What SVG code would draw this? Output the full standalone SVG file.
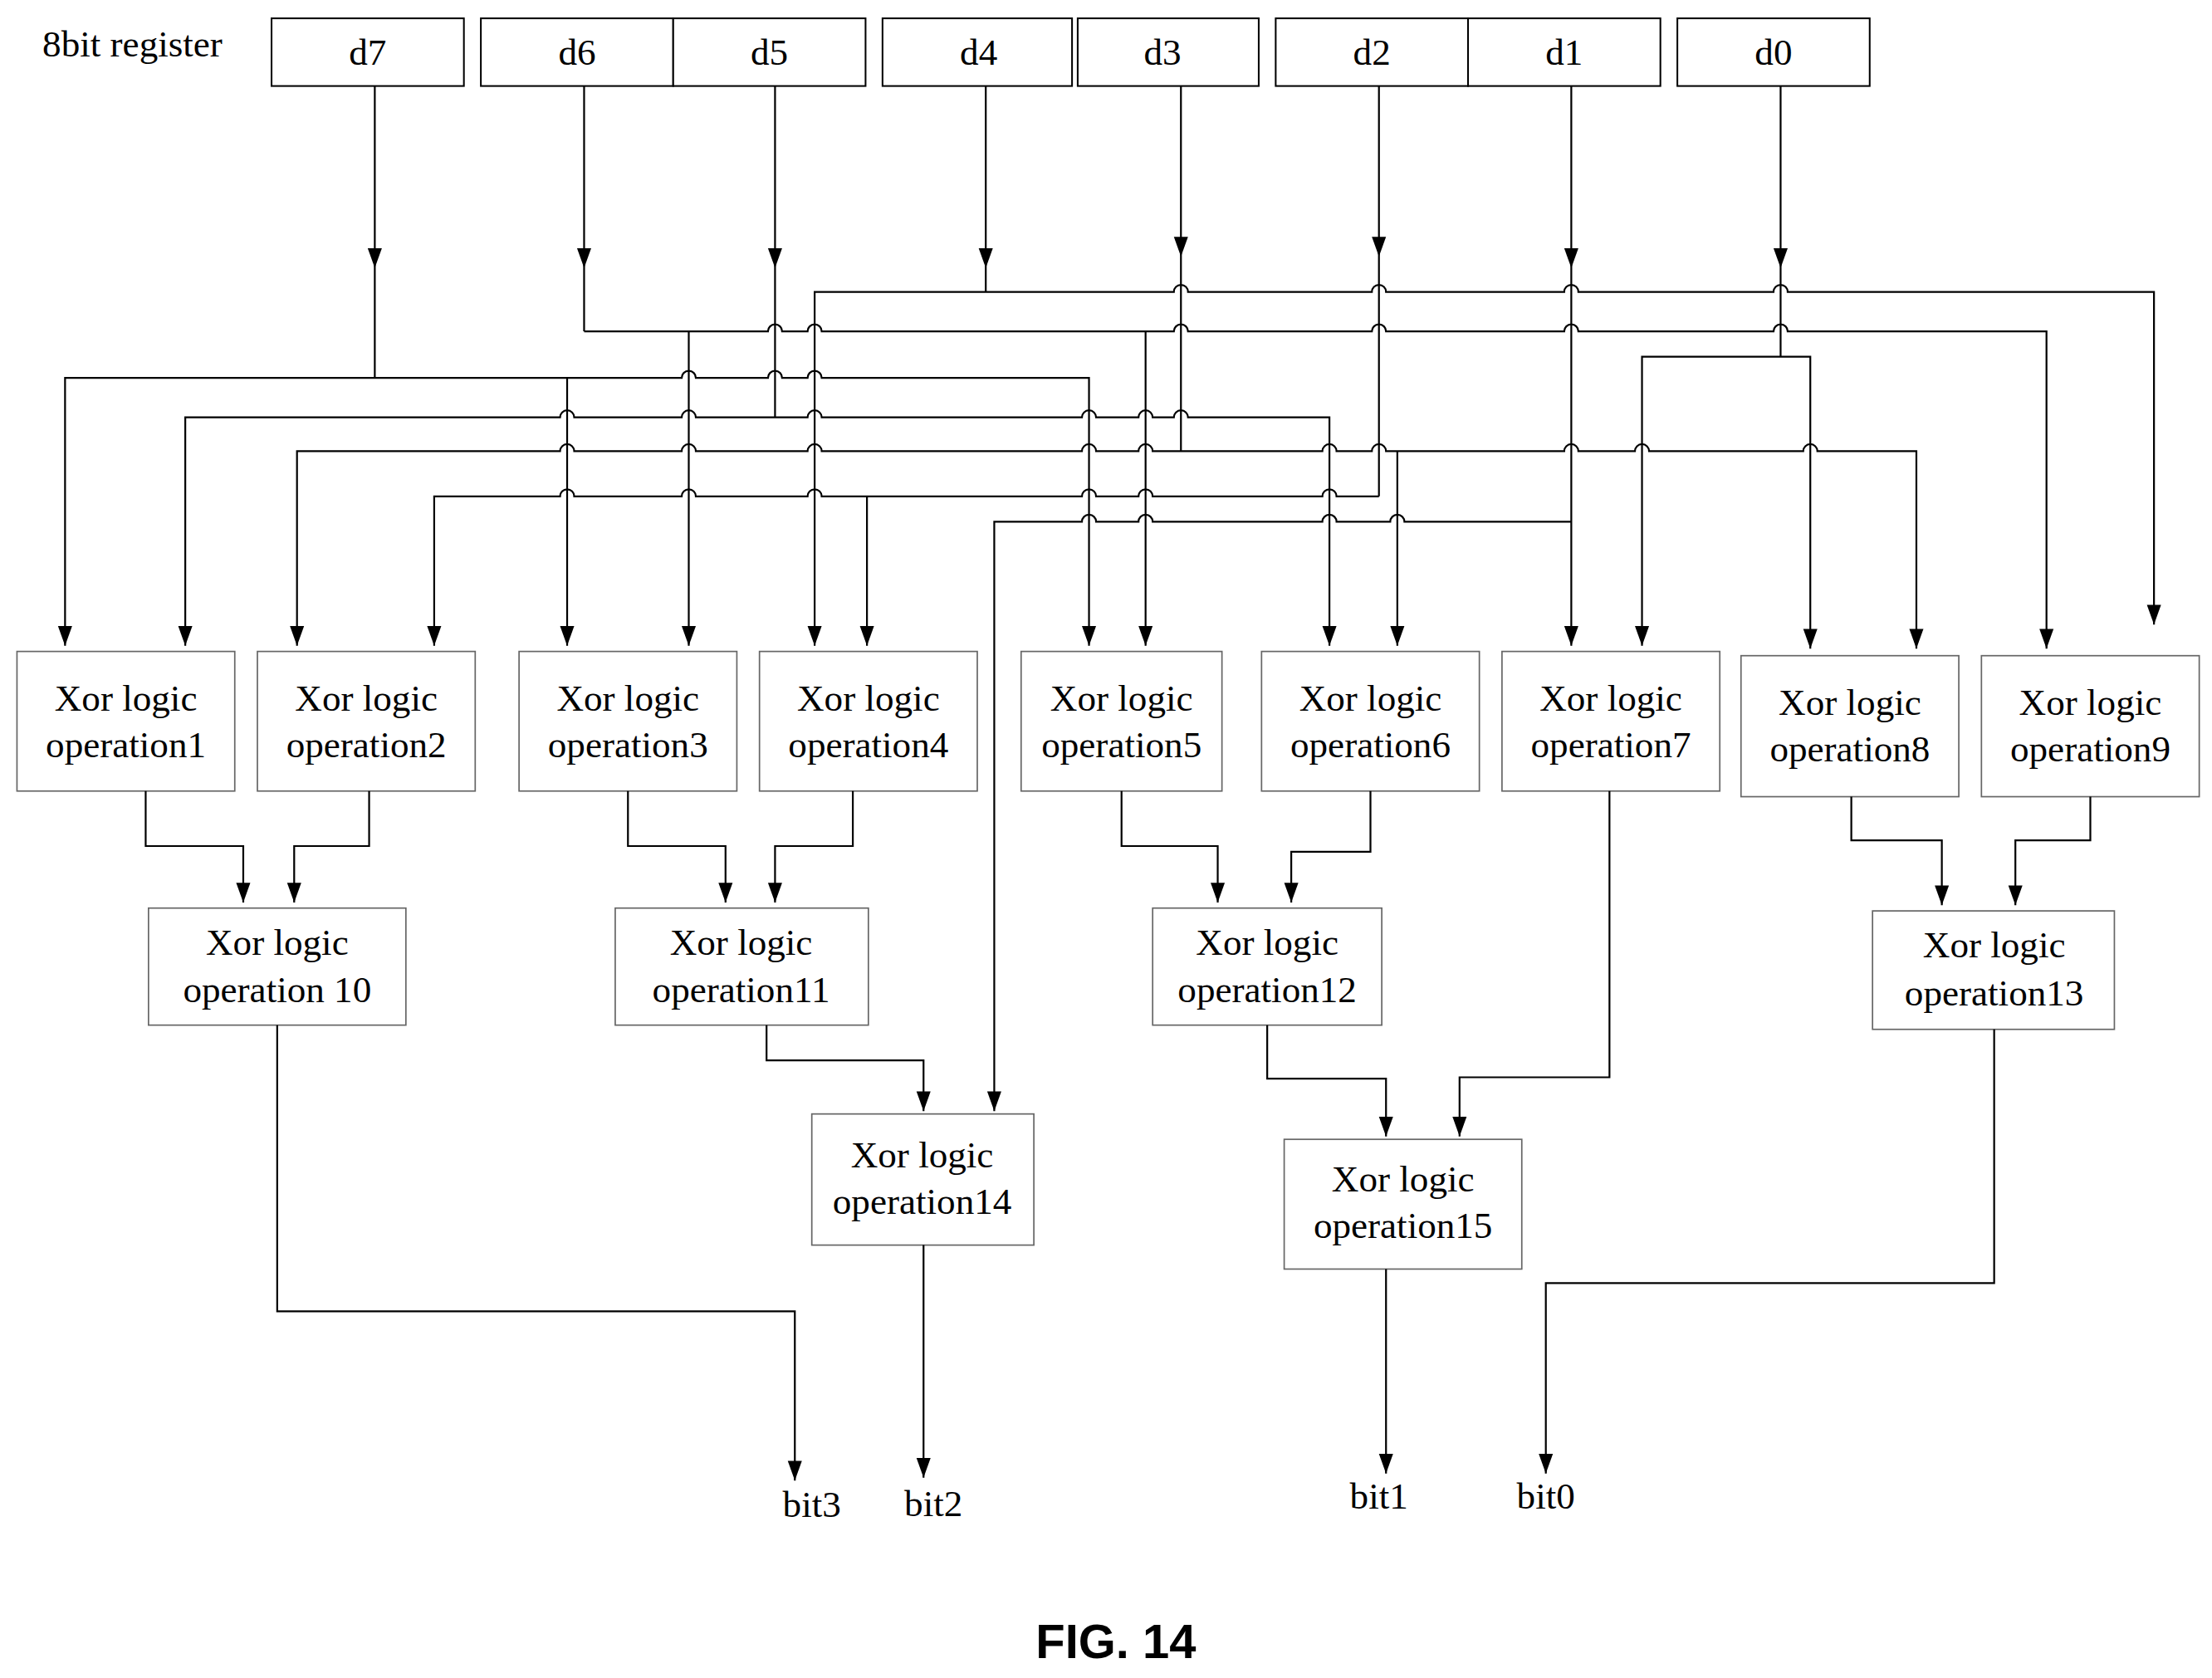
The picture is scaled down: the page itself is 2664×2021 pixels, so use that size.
<svg xmlns="http://www.w3.org/2000/svg" width="2664" height="2021" viewBox="0 0 2664 2021">
<style>
.reg{fill:#fff;stroke:#000;stroke-width:1.2}
.op{fill:#fff;stroke:#666;stroke-width:1}
.w{fill:none;stroke:#000;stroke-width:1.3}
text{font-family:"Liberation Serif","Times New Roman",serif;font-size:26.5px;fill:#000;text-anchor:middle}
</style>
<defs>
<path id="ah" d="M-5,-14 L5,-14 L0,0 Z" fill="#000"/>
</defs>
<rect width="2664" height="2021" fill="#fff"/>
<g transform="scale(1.7033,1.6983)">
<text x="30" y="40" style="text-anchor:start">8bit register</text>
<g id="reg">
<rect class="reg" x="192" y="13" width="136" height="48"/><text x="260" y="46">d7</text>
<rect class="reg" x="340" y="13" width="136" height="48"/><text x="408" y="46">d6</text>
<rect class="reg" x="476" y="13" width="136" height="48"/><text x="544" y="46">d5</text>
<rect class="reg" x="624" y="13" width="134" height="48"/><text x="692" y="46">d4</text>
<rect class="reg" x="762" y="13" width="128" height="48"/><text x="822" y="46">d3</text>
<rect class="reg" x="902" y="13" width="136" height="48"/><text x="970" y="46">d2</text>
<rect class="reg" x="1038" y="13" width="136" height="48"/><text x="1106" y="46">d1</text>
<rect class="reg" x="1186" y="13" width="136" height="48"/><text x="1254" y="46">d0</text>
</g>
<g id="op1"><rect class="op" x="12" y="462" width="154" height="99"/><text x="89" y="504">Xor logic</text><text x="89" y="537">operation1</text></g>
<g id="op2"><rect class="op" x="182" y="462" width="154" height="99"/><text x="259" y="504">Xor logic</text><text x="259" y="537">operation2</text></g>
<g id="op3"><rect class="op" x="367" y="462" width="154" height="99"/><text x="444" y="504">Xor logic</text><text x="444" y="537">operation3</text></g>
<g id="op4"><rect class="op" x="537" y="462" width="154" height="99"/><text x="614" y="504">Xor logic</text><text x="614" y="537">operation4</text></g>
<g id="op5"><rect class="op" x="722" y="462" width="142" height="99"/><text x="793" y="504">Xor logic</text><text x="793" y="537">operation5</text></g>
<g id="op6"><rect class="op" x="892" y="462" width="154" height="99"/><text x="969" y="504">Xor logic</text><text x="969" y="537">operation6</text></g>
<g id="op7"><rect class="op" x="1062" y="462" width="154" height="99"/><text x="1139" y="504">Xor logic</text><text x="1139" y="537">operation7</text></g>
<g id="op8"><rect class="op" x="1231" y="465" width="154" height="100"/><text x="1308" y="507">Xor logic</text><text x="1308" y="540">operation8</text></g>
<g id="op9"><rect class="op" x="1401" y="465" width="154" height="100"/><text x="1478" y="507">Xor logic</text><text x="1478" y="540">operation9</text></g>
<g id="op10"><rect class="op" x="105" y="644" width="182" height="83"/><text x="196" y="677">Xor logic</text><text x="196" y="711">operation 10</text></g>
<g id="op11"><rect class="op" x="435" y="644" width="179" height="83"/><text x="524" y="677">Xor logic</text><text x="524" y="711">operation11</text></g>
<g id="op12"><rect class="op" x="815" y="644" width="162" height="83"/><text x="896" y="677">Xor logic</text><text x="896" y="711">operation12</text></g>
<g id="op13"><rect class="op" x="1324" y="646" width="171" height="84"/><text x="1410" y="679">Xor logic</text><text x="1410" y="713">operation13</text></g>
<g id="op14"><rect class="op" x="574" y="790" width="157" height="93"/><text x="652" y="828">Xor logic</text><text x="652" y="861">operation14</text></g>
<g id="op15"><rect class="op" x="908" y="808" width="168" height="92"/><text x="992" y="845">Xor logic</text><text x="992" y="878">operation15</text></g>
<g id="labels">
<text x="574" y="1076">bit3</text><text x="660" y="1075">bit2</text><text x="975" y="1070">bit1</text><text x="1093" y="1070">bit0</text>
<text x="789" y="1176" style="font-family:'Liberation Sans',Arial,sans-serif;font-weight:bold;font-size:34px">FIG. 14</text>
</g>
<g id="connectors">
<path class="w" d="M265 61V268M413 61V235M548 61V296M697 61V207M835 61V320M975 61V352M1111 61V458M1259 61V253"/>
<path class="w" d="M576 458V207H830a5 5 0 0 1 10 0H970a5 5 0 0 1 10 0H1106a5 5 0 0 1 10 0H1254a5 5 0 0 1 10 0H1523V443"/>
<path class="w" d="M413 235H543a5 5 0 0 1 10 0H571a5 5 0 0 1 10 0H830a5 5 0 0 1 10 0H970a5 5 0 0 1 10 0H1106a5 5 0 0 1 10 0H1254a5 5 0 0 1 10 0H1447V460M487 235V458M810 235V458"/>
<path class="w" d="M46 458V268H482a5 5 0 0 1 10 0H543a5 5 0 0 1 10 0H571a5 5 0 0 1 10 0H770V458M401 268V458"/>
<path class="w" d="M131 458V296H396a5 5 0 0 1 10 0H482a5 5 0 0 1 10 0H571a5 5 0 0 1 10 0H765a5 5 0 0 1 10 0H805a5 5 0 0 1 10 0H830a5 5 0 0 1 10 0H940V458"/>
<path class="w" d="M210 458V320H396a5 5 0 0 1 10 0H482a5 5 0 0 1 10 0H571a5 5 0 0 1 10 0H765a5 5 0 0 1 10 0H805a5 5 0 0 1 10 0H935a5 5 0 0 1 10 0H970a5 5 0 0 1 10 0H1106a5 5 0 0 1 10 0H1156a5 5 0 0 1 10 0H1275a5 5 0 0 1 10 0H1355V460M988 320V458"/>
<path class="w" d="M307 458V352H396a5 5 0 0 1 10 0H482a5 5 0 0 1 10 0H571a5 5 0 0 1 10 0H765a5 5 0 0 1 10 0H805a5 5 0 0 1 10 0H935a5 5 0 0 1 10 0H975M613 352V458"/>
<path class="w" d="M703 788V370H765a5 5 0 0 1 10 0H805a5 5 0 0 1 10 0H935a5 5 0 0 1 10 0H983a5 5 0 0 1 10 0H1111"/>
<path class="w" d="M1161 458V253H1280V460"/>
<path class="w" d="M103 561V600H172V640M261 561V600H208V640M444 561V600H513V640M603 561V600H548V640M793 561V600H861V640M969 561V604H913V640M1309 565V596H1373V642M1478 565V596H1425V642"/>
<path class="w" d="M196 727V930H562V1050M542 727V752H653V788M1138 561V764H1032V806M896 727V765H980V806M653 883V1048M980 900V1045M1410 730V910H1093V1045"/>
<g id="arrows">
<use href="#ah" x="265" y="190"/><use href="#ah" x="413" y="190"/><use href="#ah" x="548" y="190"/><use href="#ah" x="697" y="190"/><use href="#ah" x="835" y="182"/><use href="#ah" x="975" y="182"/><use href="#ah" x="1111" y="190"/><use href="#ah" x="1259" y="190"/>
<use href="#ah" x="46" y="458"/><use href="#ah" x="131" y="458"/><use href="#ah" x="210" y="458"/><use href="#ah" x="307" y="458"/><use href="#ah" x="401" y="458"/><use href="#ah" x="487" y="458"/><use href="#ah" x="576" y="458"/><use href="#ah" x="613" y="458"/><use href="#ah" x="770" y="458"/><use href="#ah" x="810" y="458"/><use href="#ah" x="940" y="458"/><use href="#ah" x="988" y="458"/><use href="#ah" x="1111" y="458"/><use href="#ah" x="1161" y="458"/><use href="#ah" x="1280" y="460"/><use href="#ah" x="1355" y="460"/><use href="#ah" x="1447" y="460"/><use href="#ah" x="1523" y="443"/>
<use href="#ah" x="172" y="640"/><use href="#ah" x="208" y="640"/><use href="#ah" x="513" y="640"/><use href="#ah" x="548" y="640"/><use href="#ah" x="861" y="640"/><use href="#ah" x="913" y="640"/><use href="#ah" x="1373" y="642"/><use href="#ah" x="1425" y="642"/>
<use href="#ah" x="653" y="788"/><use href="#ah" x="703" y="788"/><use href="#ah" x="980" y="806"/><use href="#ah" x="1032" y="806"/>
<use href="#ah" x="562" y="1050"/><use href="#ah" x="653" y="1048"/><use href="#ah" x="980" y="1045"/><use href="#ah" x="1093" y="1045"/>
</g>
</g>
</g>
</svg>
